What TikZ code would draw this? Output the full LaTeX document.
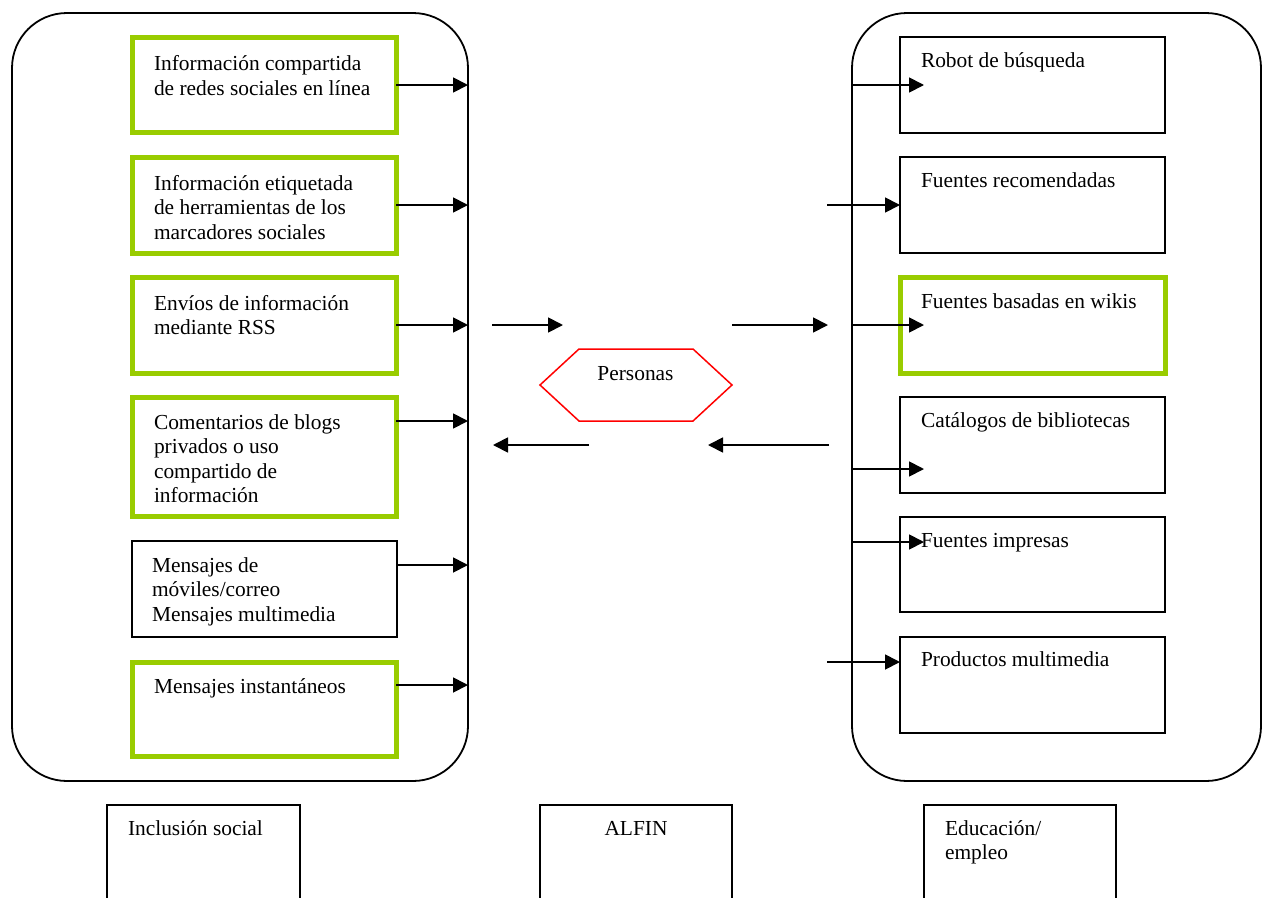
\documentclass[tikz,border=0pt]{standalone}
\usepackage{fontspec}
\setmainfont{Liberation Serif}
\usetikzlibrary{arrows.meta,calc}
\definecolor{lime}{RGB}{153,204,0}
\begin{document}
\begin{tikzpicture}[x=1pt,y=-1pt,
  big/.style={draw=black, line width=1.8pt, rounded corners=55pt, inner sep=0pt, outer sep=0pt},
  gbox/.style={draw=lime, line width=5pt, minimum width=264pt, inner sep=0pt, outer sep=0pt},
  kbox/.style={draw=black, line width=1.7pt, minimum width=265pt, inner sep=0pt, outer sep=0pt},
  bbox/.style={draw=black, line width=1.8pt, minimum width=192pt, minimum height=130pt, inner sep=0pt, outer sep=0pt},
  txt/.style={anchor=base west, inner sep=0pt, outer sep=0pt, align=left, font=\fontsize{21.4}{24.5}\selectfont},
  arr/.style={line width=1.8pt, -{Triangle[length=15pt,width=15pt]}},
]
\path[use as bounding box, clip] (0,0) rectangle (1263,897);
\fill[white] (0,0) rectangle (1263,897);

% big containers
\node[big, minimum width=456pt, minimum height=768pt] (L) at (240,397) {};
\node[big, minimum width=409pt, minimum height=768pt] (R) at (1056.5,397) {};

% left boxes
\node[gbox, minimum height=95pt] (b1) at (264,85) {};
\node[gbox, minimum height=96pt] (b2) at (264,205) {};
\node[gbox, minimum height=96pt] (b3) at (264,325) {};
\node[gbox, minimum height=119pt] (b4) at (264,456.5) {};
\node[kbox, minimum height=96pt] (b5) at (264.5,589) {};
\node[gbox, minimum height=94pt] (b6) at (264,709) {};

% (multi-line text: anchor is the baseline of the last line)
\node[txt] (t1) at (154,95) {Información compartida\\de redes sociales en línea};
\node[txt] (t2) at (154,239) {Información etiquetada\\de herramientas de los\\marcadores sociales};
\node[txt] (t3) at (154,334.5) {Envíos de información\\mediante RSS};
\node[txt] (t4) at (154,502.5) {Comentarios de blogs\\privados o uso\\compartido de\\información};
\node[txt] (t5) at (152,621) {Mensajes de\\móviles/correo\\Mensajes multimedia};
\node[txt] (t6) at (154,693) {Mensajes instantáneos};

% right boxes
\node[kbox, minimum height=96pt] (r1) at (1032.5,85) {};
\node[kbox, minimum height=96pt] (r2) at (1032.5,205) {};
\node[gbox, minimum width=265pt, minimum height=96pt] (r3) at (1032.5,325) {};
\node[kbox, minimum height=96pt] (r4) at (1032.5,445) {};
\node[kbox, minimum height=95pt] (r5) at (1032.5,564.5) {};
\node[kbox, minimum height=96pt] (r6) at (1032.5,685) {};

\node[txt] (s1) at (921,67) {Robot de búsqueda};
\node[txt] (s2) at (921,187) {Fuentes recomendadas};
\node[txt] (s3) at (921,308) {Fuentes basadas en wikis};
\node[txt] (s4) at (921,427) {Catálogos de bibliotecas};
\node[txt] (s5) at (921,547) {Fuentes impresas};
\node[txt] (s6) at (921,666) {Productos multimedia};

% bottom boxes
\node[bbox, minimum width=193pt] (inc) at (203.5,870) {};
\node[bbox] (alf) at (636,870) {};
\node[bbox] (edu) at (1020,870) {};
\node[txt] (tinc) at (128,835) {Inclusión social};
\node[txt, anchor=base] (talf) at (636,835) {ALFIN};
\node[txt] (tedu) at (945,859.5) {Educación/\\empleo};

% hexagon
\coordinate (h1) at (540,385);
\coordinate (h2) at (579,349);
\coordinate (h3) at (693,349);
\coordinate (h4) at (732,385);
\coordinate (h5) at (693,421);
\coordinate (h6) at (579,421);
\draw[red, line width=1.5pt, line join=miter] (h1) -- (h2) -- (h3) -- (h4) -- (h5) -- (h6) -- cycle;
\node[txt, anchor=base] (hex) at (635.5,380) {Personas};

% left arrows
\draw[arr] (b1.east) -- (L.east |- b1.east);
\draw[arr] (b2.east) -- (L.east |- b2.east);
\draw[arr] (b3.east) -- (L.east |- b3.east);
\coordinate (a4) at (b4.east |- 0,421);
\draw[arr] (a4) -- (L.east |- a4);
\coordinate (a5) at (b5.east |- 0,565);
\draw[arr] (a5) -- (L.east |- a5);
\coordinate (a6) at (b6.east |- 0,685);
\draw[arr] (a6) -- (L.east |- a6);

% middle arrows
\coordinate (m1s) at (492,325); \coordinate (m1e) at (563,325);
\coordinate (m2s) at (732,325); \coordinate (m2e) at (828,325);
\coordinate (m3s) at (589,445); \coordinate (m3e) at (493,445);
\coordinate (m4s) at (829,445); \coordinate (m4e) at (708,445);
\draw[arr] (m1s) -- (m1e);
\draw[arr] (m2s) -- (m2e);
\draw[arr] (m3s) -- (m3e);
\draw[arr] (m4s) -- (m4e);

% right arrows
\coordinate (c1) at (R.west |- r1.west);
\draw[arr] (c1) -- ++(72,0) coordinate (e1);
\coordinate (c2) at (827,205);
\draw[arr] (c2) -- (r2.west);
\coordinate (c3) at (R.west |- r3.west);
\draw[arr] (c3) -- ++(72,0) coordinate (e3);
\coordinate (c4) at (R.west |- 0,469);
\draw[arr] (c4) -- ++(72,0) coordinate (e4);
\coordinate (c5) at (R.west |- 0,542);
\draw[arr] (c5) -- ++(72,0) coordinate (e5);
\coordinate (c6) at (827,662);
\draw[arr] (c6) -- (r6.west |- c6);
\end{tikzpicture}
\end{document}
